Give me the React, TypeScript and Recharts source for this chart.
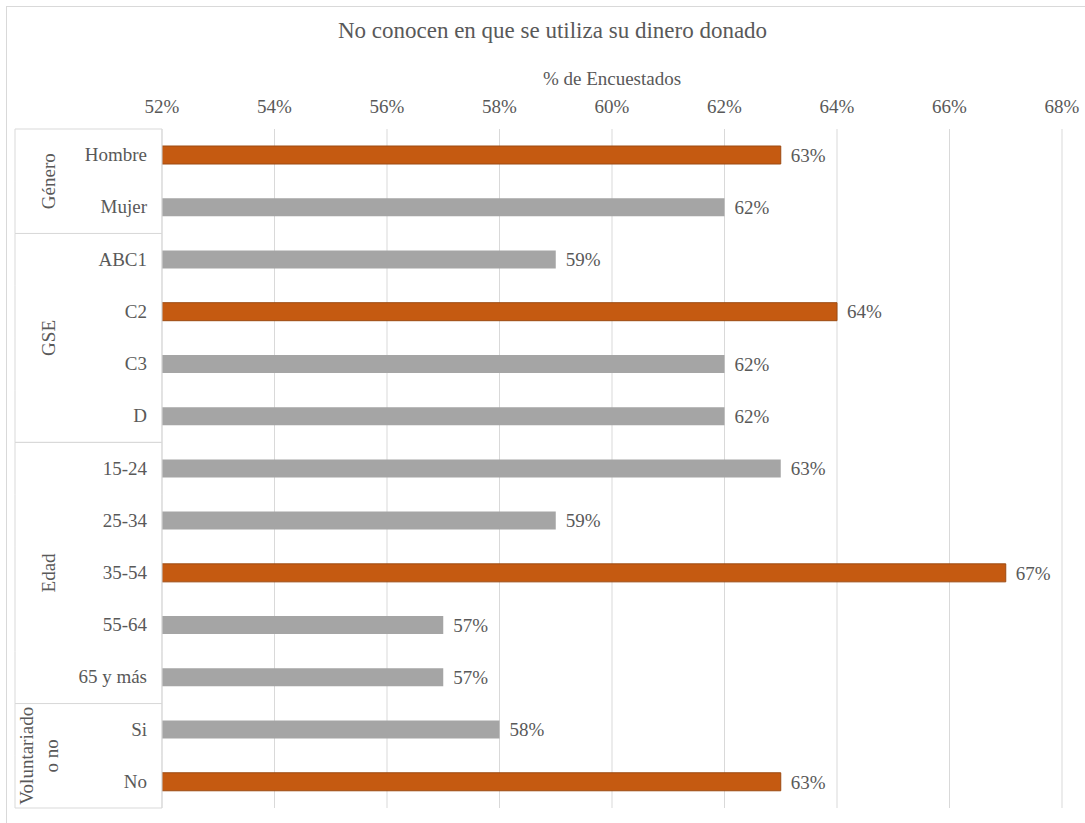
import { Bar, BarChart, CartesianGrid, Cell, LabelList, XAxis, YAxis } from 'recharts'

const categorias = ['Hombre', 'Mujer', 'ABC1', 'C2', 'C3', 'D', '15-24', '25-34', '35-54', '55-64', '65 y más', 'Si', 'No']
const grupos = ['Género', 'Género', 'GSE', 'GSE', 'GSE', 'GSE', 'Edad', 'Edad', 'Edad', 'Edad', 'Edad', 'Voluntariado o no', 'Voluntariado o no']
const valores = [63, 62, 59, 64, 62, 62, 63, 59, 67, 57, 57, 58, 63]
const ticksX = [52, 54, 56, 58, 60, 62, 64, 66, 68]

const grupoLineas: Record<string, string[]> = {
  'Voluntariado o no': ['Voluntariado', 'o no'],
}

const FONT = '"Liberation Serif", "Times New Roman", serif'
const GRIS_TXT = '#595959'
const LINEA = '#d9d9d9'
const FS = 19

// el máximo de cada grupo va destacado
const maxPorGrupo: Record<string, number> = {}
grupos.forEach((g, i) => {
  maxPorGrupo[g] = Math.max(maxPorGrupo[g] ?? -Infinity, valores[i])
})

const data = categorias.map((cat, i) => ({
  cat,
  grupo: grupos[i],
  pct: valores[i],
  destacado: valores[i] === maxPorGrupo[grupos[i]],
}))

function GroupTick(props: any) {
  const { x, y, payload, index, width } = props
  const half = payload.offset ?? 26
  const right = x + 15
  const left = right - width
  const g = grupos[index]
  const first = index === 0 || grupos[index - 1] !== g
  const last = index === grupos.length - 1 || grupos[index + 1] !== g
  let label = null
  if (first) {
    const n = grupos.filter((v) => v === g).length
    const cy = y - half + n * half
    const lines = grupoLineas[g] ?? [g]
    const cx = left + (lines.length > 1 ? 24 : 34)
    label = (
      <text
        transform={`translate(${cx},${cy}) rotate(-90)`}
        textAnchor="middle"
        fill={GRIS_TXT}
        fontSize={FS}
        fontFamily={FONT}
      >
        {lines.map((ln, k) => (
          <tspan key={k} x={0} y={(k - (lines.length - 1) / 2) * 25 + 6}>
            {ln}
          </tspan>
        ))}
      </text>
    )
  }
  return (
    <g>
      {first && <line x1={left} x2={right} y1={y - half} y2={y - half} stroke={LINEA} />}
      {last && <line x1={left} x2={right} y1={y + half} y2={y + half} stroke={LINEA} />}
      <line x1={left} x2={left} y1={y - half} y2={y + half} stroke={LINEA} />
      <line x1={right} x2={right} y1={y - half} y2={y + half} stroke={LINEA} />
      {label}
      <text x={x} y={y} dy={6} textAnchor="end" fill={GRIS_TXT} fontSize={FS} fontFamily={FONT}>
        {payload.value}
      </text>
    </g>
  )
}

export default function App() {
  return (
    <div style={{ position: 'absolute', left: 0, top: 0, width: 1085, height: 823, background: '#fff', overflow: 'hidden' }}>
      <div
        style={{
          position: 'absolute',
          left: 6,
          top: 6,
          width: 1100,
          height: 840,
          borderLeft: `1.5px solid ${LINEA}`,
          borderTop: `1.5px solid ${LINEA}`,
        }}
      />
      <div
        style={{
          position: 'absolute',
          top: 18,
          left: 0,
          width: 1105,
          textAlign: 'center',
          fontFamily: FONT,
          fontSize: 23,
          color: GRIS_TXT,
        }}
      >
        No conocen en que se utiliza su dinero donado
      </div>
      <div style={{ position: 'absolute', left: 0, top: 0 }}>
        <BarChart
          width={1085}
          height={823}
          data={data}
          layout="vertical"
          margin={{ top: 69, right: 23, bottom: 15, left: 15 }}
          barCategoryGap={0}
        >
          <CartesianGrid horizontal={false} stroke={LINEA} />
          <XAxis
            type="number"
            orientation="top"
            domain={[52, 68]}
            ticks={ticksX}
            allowDataOverflow
            tickFormatter={(v) => `${v}%`}
            axisLine={false}
            tickLine={false}
            tickSize={0}
            tickMargin={16}
            height={60}
            tick={{ fill: GRIS_TXT, fontSize: FS, fontFamily: FONT }}
            label={{
              value: '% de Encuestados',
              position: 'insideTop',
              offset: 3,
              fill: GRIS_TXT,
              fontSize: FS,
              fontFamily: FONT,
            }}
          />
          <YAxis
            type="category"
            dataKey="cat"
            width={147}
            axisLine={false}
            tickLine={false}
            tickSize={0}
            tickMargin={15}
            interval={0}
            tick={<GroupTick />}
          />
          <Bar dataKey="pct" barSize={18} isAnimationActive={false}>
            {data.map((d, i) => (
              <Cell
                key={i}
                fill={d.destacado ? '#c55a11' : '#a5a5a5'}
                stroke={d.destacado ? '#9c4a12' : 'none'}
              />
            ))}
            <LabelList
              dataKey="pct"
              position="right"
              offset={10}
              formatter={(v: any) => `${v}%`}
              fill={GRIS_TXT}
              fontSize={FS}
              fontFamily={FONT}
            />
          </Bar>
        </BarChart>
      </div>
    </div>
  )
}
